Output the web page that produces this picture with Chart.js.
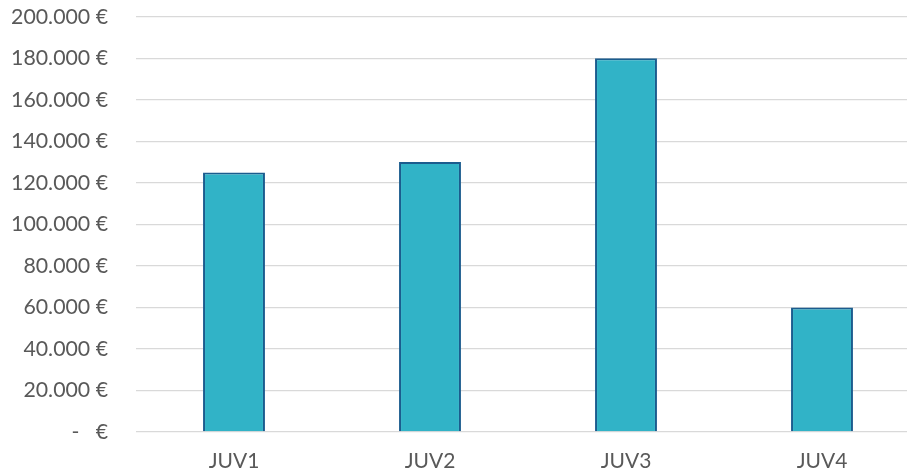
<!DOCTYPE html>
<html>
<head>
<meta charset="utf-8">
<script src="https://cdn.jsdelivr.net/npm/chart.js@4"></script>
<style>
  html, body { margin: 0; padding: 0; background: #ffffff; overflow: hidden; }
  #wrap { position: relative; width: 920px; height: 500px; margin-top: -24px; }
</style>
</head>
<body>
<div id="wrap"><canvas id="c"></canvas></div>
<script>
// Budget per team
const categories = ['JUV1', 'JUV2', 'JUV3', 'JUV4'];
const budget = [125000, 130000, 180000, 60000];
const yTickValues = [0, 20000, 40000, 60000, 80000, 100000, 120000, 140000, 160000, 180000, 200000];
const yTickLabels = ['-   €', '20.000 €', '40.000 €', '60.000 €', '80.000 €', '100.000 €',
                     '120.000 €', '140.000 €', '160.000 €', '180.000 €', '200.000 €'];

const textColor = '#595959';
const xFont = { family: 'Lato, "Open Sans", sans-serif', size: 21 };
const yFont = { family: 'Lato, "Open Sans", sans-serif', size: 21.3 };

new Chart(document.getElementById('c'), {
  type: 'bar',
  data: {
    labels: categories,
    datasets: [{
      data: budget,
      backgroundColor: '#31B3C7',
      borderColor: '#1B5C8E',
      borderWidth: 2,
      borderSkipped: 'start',
      categoryPercentage: 1,
      barPercentage: 0.316
    }]
  },
  options: {
    responsive: true,
    maintainAspectRatio: false,
    animation: false,
    layout: { padding: 0 },
    plugins: { legend: { display: false }, tooltip: { enabled: false } },
    scales: {
      x: {
        grid: { display: false },
        border: { display: false },
        ticks: { color: textColor, font: xFont, padding: 9 },
        afterFit: s => { s.height = 44; }
      },
      y: {
        min: 0,
        max: 200000,
        afterBuildTicks: s => { s.ticks = yTickValues.map(v => ({ value: v })); },
        grid: { color: '#D9D9D9', lineWidth: 1.3, drawTicks: false },
        border: { display: false },
        ticks: {
          color: textColor,
          font: yFont,
          padding: 28,
          callback: (v) => yTickLabels[yTickValues.indexOf(v)]
        },
        afterFit: s => { s.width = 136; }
      }
    }
  }
});
</script>
</body>
</html>
